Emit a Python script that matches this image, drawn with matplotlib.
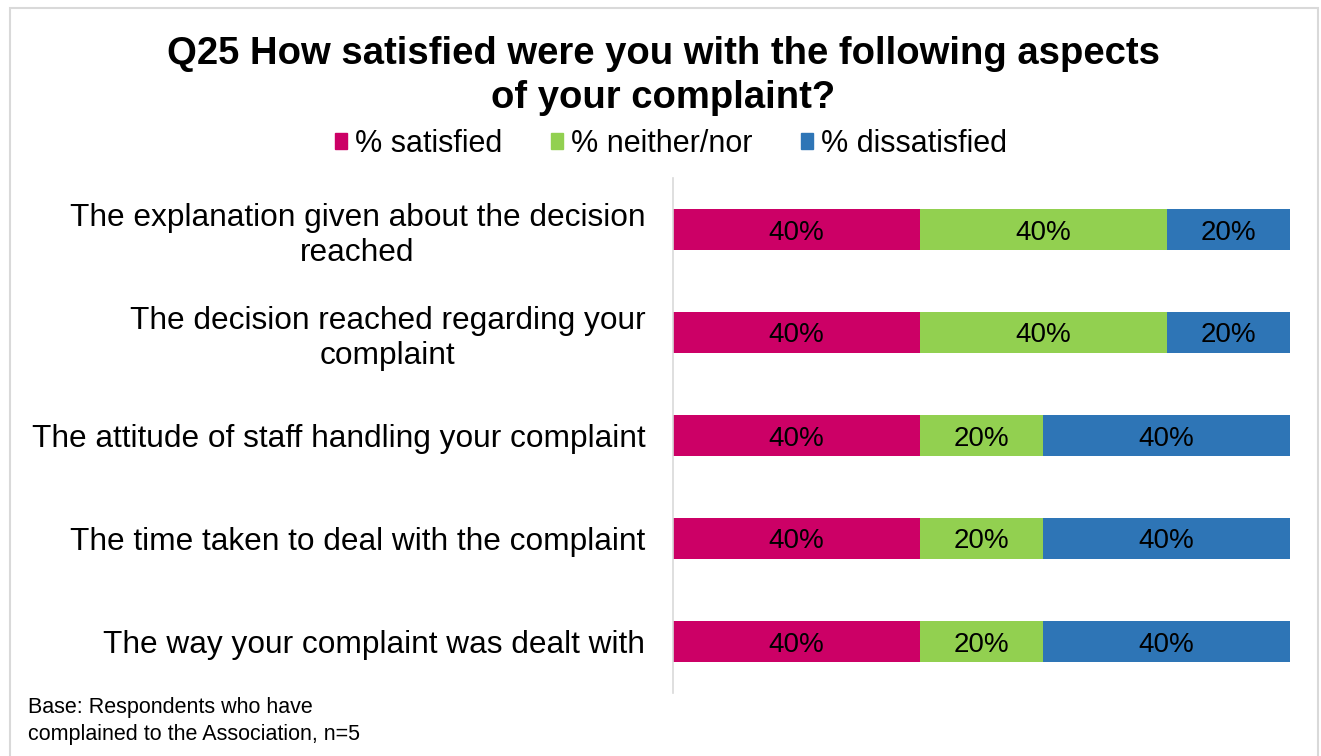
import matplotlib.pyplot as plt
import numpy as np
from matplotlib.patches import Rectangle

plt.rcParams["font.family"] = ["Liberation Sans", "DejaVu Sans"]

# aspectos avaliados (de cima para baixo)
aspects = [
    "The explanation given about the decision\nreached",
    "The decision reached regarding your\ncomplaint",
    "The attitude of staff handling your complaint",
    "The time taken to deal with the complaint",
    "The way your complaint was dealt with",
]
satisfied = [40, 40, 40, 40, 40]
neither = [40, 40, 20, 20, 20]
dissatisfied = [20, 20, 40, 40, 40]

series_names = ["% satisfied", "% neither/nor", "% dissatisfied"]
colors = ["#CC0066", "#92D050", "#2E75B6"]

fig = plt.figure(figsize=(13.21, 7.56), dpi=100)
fig.patch.set_facecolor("white")

# moldura cinza clara em volta do gráfico
fig.add_artist(Rectangle((10 / 1321, -0.01), 1308 / 1321, 1 - 8 / 756 + 0.01,
                         transform=fig.transFigure, fill=False,
                         edgecolor="#D9D9D9", linewidth=1.5))

ax = fig.add_axes([673 / 1321, 63 / 756, 617 / 1321, 515 / 756])

pos = np.arange(len(aspects))
left = np.zeros(len(aspects))
for vals, name, col in zip([satisfied, neither, dissatisfied], series_names, colors):
    vals = np.array(vals, dtype=float)
    bars = ax.barh(pos, vals, left=left, height=0.39, color=col, label=name)
    for b, v in zip(bars, vals):
        ax.text(b.get_x() + b.get_width() / 2, b.get_y() + b.get_height() / 2,
                f"{v:.0f}%", ha="center", va="center_baseline", fontsize=20, color="black")
    left += vals

ax.set_xlim(0, 100)
ax.set_ylim(len(aspects) - 0.5, -0.5)
ax.set_xticks([])
ax.set_yticks(pos)
ax.set_yticklabels(aspects, fontsize=22.8, multialignment="center", linespacing=1.2)
ax.tick_params(axis="y", length=0, pad=20)
for s in ["top", "right", "bottom"]:
    ax.spines[s].set_visible(False)
ax.spines["left"].set_color("#D9D9D9")
ax.spines["left"].set_linewidth(1.2)

fig.text(663 / 1321, 1 - 76 / 756,
         "Q25 How satisfied were you with the following aspects\nof your complaint?",
         ha="center", va="center", fontsize=27.5, fontweight="bold", linespacing=1.3)

handles = [Rectangle((0, 0), 1, 1, color=c) for c in colors]
fig.legend(handles, series_names, loc="center", bbox_to_anchor=(671 / 1321, 1 - 144 / 756),
           ncol=3, frameon=False, fontsize=22, handlelength=0.4, handleheight=0.4,
           handletextpad=0.25, columnspacing=1.6)

fig.text(28 / 1321, 1 - 721 / 756,
         "Base: Respondents who have\ncomplained to the Association, n=5",
         ha="left", va="center", fontsize=15.5, linespacing=1.35)

fig.savefig("out.png", dpi=100)
